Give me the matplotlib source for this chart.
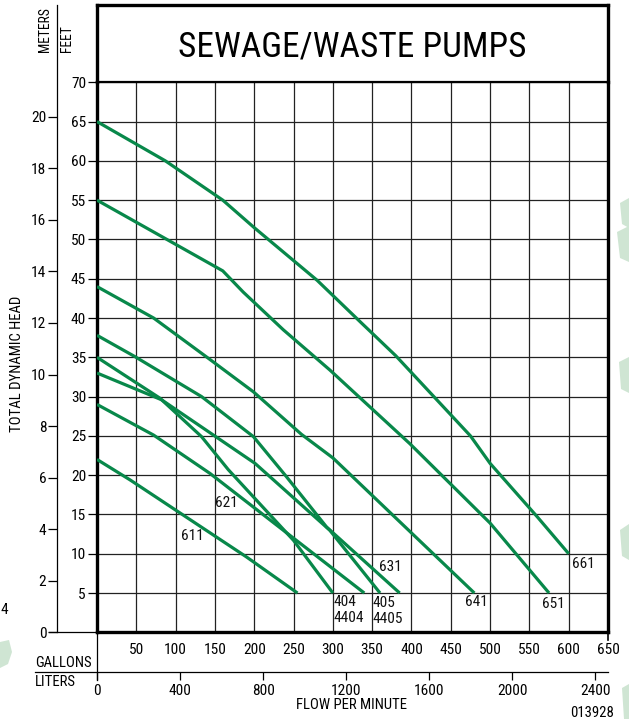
import matplotlib
matplotlib.use('Agg')
import matplotlib.pyplot as plt
from matplotlib.lines import Line2D
from matplotlib.patches import Polygon
from matplotlib import font_manager as fm

# ---------------- data ----------------
title = "SEWAGE/WASTE PUMPS"
gallon_ticks = [50, 100, 150, 200, 250, 300, 350, 400, 450, 500, 550, 600, 650]
liter_ticks = [0, 400, 800, 1200, 1600, 2000, 2400]
feet_ticks = [5, 10, 15, 20, 25, 30, 35, 40, 45, 50, 55, 60, 65, 70]
meter_ticks = [0, 2, 4, 6, 8, 10, 12, 14, 16, 18, 20]

gpm_661 = [0, 87, 160, 200, 280, 335, 380, 475, 500, 560, 600]
ft_661 = [65, 60, 55, 51.5, 44.8, 39.5, 35.2, 25, 21.5, 14.7, 10]

gpm_651 = [0, 160, 186, 237, 296, 398, 500, 575]
ft_651 = [55, 46, 43.3, 38.5, 33.4, 24, 13.9, 5]

gpm_641 = [0, 72, 144, 199, 260, 300, 480]
ft_641 = [44, 40, 34.7, 30.6, 25.2, 22.2, 5]

gpm_631 = [0, 48, 133, 199, 241, 292, 385]
ft_631 = [37.8, 35.1, 30, 24.9, 19.8, 13.4, 5]

gpm_404 = [0, 80, 133, 167, 250, 300]
ft_404 = [35, 29.8, 24.9, 20.7, 11.7, 5]

gpm_405 = [0, 82, 201, 296, 360]
ft_405 = [33, 29.6, 21.5, 13, 5]

gpm_621 = [0, 72, 144, 340]
ft_621 = [29, 25.1, 20.2, 5]

gpm_611 = [0, 42, 190, 255]
ft_611 = [22, 19.4, 9.6, 5]

curve_gpm = [gpm_661, gpm_651, gpm_641, gpm_631, gpm_404, gpm_405, gpm_621, gpm_611]
curve_ft = [ft_661, ft_651, ft_641, ft_631, ft_404, ft_405, ft_621, ft_611]

label_text = ["661", "651", "641", "631", "404\n4404", "405\n4405", "621", "611"]
label_gpm = [604, 580, 483, 373, 300.5, 350.5, 164.5, 121.5]
label_ft = [8.7, 3.6, 3.8, 8.3, 2.85, 2.75, 16.4, 12.2]
label_ha = ['left', 'center', 'center', 'center', 'left', 'left', 'center', 'center']

# ---------------- font choice ----------------
def pick_narrow():
    fl = fm.fontManager.ttflist
    for pref in ['Liberation Sans Narrow', 'Arial Narrow', 'Roboto Condensed',
                 'Open Sans Condensed', 'Noto Sans Condensed', 'DejaVu Sans Condensed']:
        for f in fl:
            if f.name == pref and f.style == 'normal':
                return pref, 'normal'
    for pref in ['Liberation Sans', 'Roboto', 'Noto Sans', 'Open Sans', 'DejaVu Sans']:
        for f in fl:
            if (f.name == pref and f.style == 'normal'
                    and str(f.stretch) in ('condensed', 'semi-condensed', 'extra-condensed')):
                return pref, 'condensed'
    return None, None

narrow_name, narrow_stretch = pick_narrow()
if narrow_name:
    plt.rcParams['font.family'] = [narrow_name, 'Liberation Sans', 'DejaVu Sans']
    plt.rcParams['font.stretch'] = narrow_stretch
    K = 1.18
    TITLE_FS = 25.4
else:
    plt.rcParams['font.family'] = ['Liberation Sans', 'DejaVu Sans']
    K = 1.0
    TITLE_FS = 20.8

FS_TICK = 9.4 * K
FS_LAB = 9.4 * K
FS_SMALL = 8.3 * K
FS_AX = 9.0 * K

GREEN = '#08884a'
GRID = '#222222'

W, H = 629, 719

def fx(x):
    return x / W

def fy(y):
    return 1 - y / H

fig = plt.figure(figsize=(W / 100, H / 100), dpi=100)

L, R, T, B = 97, 608, 82.3, 632.3
TOP = 5

# main chart
ax = fig.add_axes([fx(L), fy(B), (R - L) / W, (B - T) / H])
ax.set_xlim(0, 650)
ax.set_ylim(0, 70)
for g in gallon_ticks[:-1]:
    ax.axvline(g, color=GRID, lw=0.9, zorder=1)
for f in feet_ticks[:-1]:
    ax.axhline(f, color=GRID, lw=0.9, zorder=1)
for xs, ys in zip(curve_gpm, curve_ft):
    ax.plot(xs, ys, color=GREEN, lw=2.3, solid_capstyle='butt', zorder=3)
for t, gx, gy, ha in zip(label_text, label_gpm, label_ft, label_ha):
    ax.text(gx, gy, t, ha=ha, va='center', fontsize=FS_LAB, linespacing=1.15,
            color='#111111', zorder=4)

ax.set_xticks(gallon_ticks)
ax.set_xticklabels([str(g) for g in gallon_ticks], fontsize=FS_TICK)
ax.set_yticks(feet_ticks)
ax.set_yticklabels([str(f) for f in feet_ticks], fontsize=FS_TICK)
ax.tick_params(axis='x', length=0, pad=8)
ax.tick_params(axis='y', direction='out', length=6.7, width=0.9, pad=1.2)
ax.spines['left'].set_linewidth(2.4)
ax.spines['bottom'].set_linewidth(2.4)
ax.spines['right'].set_linewidth(2.4)
ax.spines['top'].set_linewidth(1.6)

# title box
tax = fig.add_axes([fx(L), fy(T), (R - L) / W, (T - TOP) / H])
tax.set_xticks([])
tax.set_yticks([])
for s in ['left', 'right', 'top']:
    tax.spines[s].set_linewidth(2.4)
tax.spines['bottom'].set_linewidth(1.6)
tax.text(0.5, 0.46, title, ha='center', va='center', fontsize=TITLE_FS,
         transform=tax.transAxes)

# meters axis
MX = 57
max_ft = (B - TOP) * 70 / (B - T)
max_m = max_ft / 3.28084
max_axis = fig.add_axes([fx(MX), fy(B), 0.0001, (B - TOP) / H])
max_axis.set_ylim(0, max_m)
max_axis.set_xticks([])
for s in ['right', 'top', 'bottom']:
    max_axis.spines[s].set_visible(False)
max_axis.spines['left'].set_linewidth(0.9)
max_axis.set_yticks(meter_ticks)
max_axis.set_yticklabels([str(m) for m in meter_ticks], fontsize=FS_TICK)
max_axis.tick_params(axis='y', direction='out', length=6.5, width=0.9, pad=1.2)
max_axis.patch.set_visible(False)

# liters axis
LY = 672
lax = fig.add_axes([fx(L), fy(LY), (R - L) / W, 0.0001])
lax.set_xlim(0, 650 * 3.78541)
lax.set_yticks([])
for s in ['left', 'right', 'top', 'bottom']:
    lax.spines[s].set_visible(False)
lax.set_xticks(liter_ticks)
lax.set_xticklabels([str(v) for v in liter_ticks], fontsize=FS_TICK)
lax.tick_params(axis='x', direction='out', length=6, width=0.9, pad=2.5)
lax.patch.set_visible(False)

# connecting lines
def fline(x0, y0, x1, y1, lw=0.9):
    fig.add_artist(Line2D([fx(x0), fx(x1)], [fy(y0), fy(y1)], color='black',
                          lw=lw, transform=fig.transFigure))

fline(35, LY, R, LY)          # liters axis line
fline(L, B, L, 680)           # zero extension
fline(49, B, L, B)            # zero line between head scales
fline(R, B, R, 640, lw=1.2)   # 650 tick

# axis titles
def ftext(x, y, s, **kw):
    fig.text(fx(x), fy(y), s, **kw)

ftext(45, 52, "METERS", rotation=90, ha='center', va='bottom', fontsize=FS_SMALL)
ftext(67, 52, "FEET", rotation=90, ha='center', va='bottom', fontsize=FS_SMALL)
ftext(17, 364, "TOTAL DYNAMIC HEAD", rotation=90, ha='center', va='center', fontsize=FS_AX)
ftext(35, 663, "GALLONS", ha='left', va='center', fontsize=FS_AX)
ftext(35, 682, "LITERS", ha='left', va='center', fontsize=FS_AX)
ftext(352, 705, "FLOW PER MINUTE", ha='center', va='center', fontsize=FS_AX)
ftext(614, 713, "013928", ha='right', va='center', fontsize=FS_AX)
ftext(4, 610, "4", ha='center', va='center', fontsize=FS_TICK)

# faint watermark fragments
WM = '#cfe5d3'
shapes = [
    [(620, 203), (629, 198), (629, 228), (622, 224)],
    [(617, 232), (629, 226), (629, 262), (620, 258)],
    [(619, 362), (629, 357), (629, 393), (621, 389)],
    [(620, 530), (629, 524), (629, 560), (622, 556)],
    [(622, 688), (629, 684), (629, 719), (624, 719)],
    [(0, 642), (9, 640), (12, 652), (8, 664), (0, 668)],
]
for pts in shapes:
    fig.add_artist(Polygon([(fx(x), fy(y)) for x, y in pts], closed=True,
                           facecolor=WM, edgecolor='none',
                           transform=fig.transFigure, zorder=0))

fig.savefig('out.png', dpi=100)
